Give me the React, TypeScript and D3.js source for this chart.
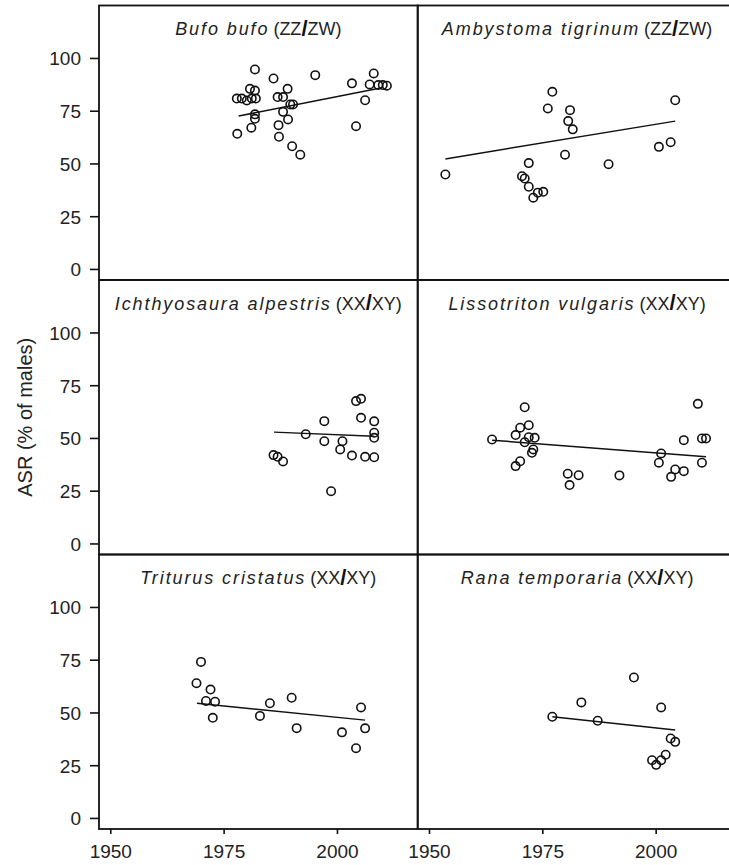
import React from "react";
import * as d3 from "d3";

// ---------- data (years, ASR % males) ----------
const bufoYears = [1981.8, 1985.9, 1995.1, 2003.2, 2008.0, 2007.1, 2009.0, 2010.0, 2010.9, 2006.1, 2004.1, 1977.8, 1978.9, 1980.0, 1981.1, 1982.0, 1980.7, 1981.8, 1986.8, 1988.0, 1989.0, 1989.6, 1990.2, 1988.0, 1989.1, 1987.0, 1981.8, 1981.8, 1981.0, 1977.9, 1987.1, 1990.0, 1991.8];
const bufoASR = [94.8, 90.5, 92.1, 88.2, 92.9, 87.7, 87.4, 87.4, 87.1, 80.2, 67.9, 81, 81, 80.1, 81, 81, 85.6, 84.8, 81.7, 81.7, 85.6, 78.2, 78.2, 74.7, 71.1, 68.4, 73.5, 71.4, 67.2, 64.3, 62.9, 58.4, 54.4];
const bufoFit = [1978.2, 72.7, 2009.8, 86.1];

const ambyYears = [1953.5, 1977.1, 1976.1, 1981.0, 1980.6, 1981.6, 2004.2, 2003.2, 2000.6, 1979.9, 1989.5, 1971.9, 1970.4, 1971.0, 1971.9, 1972.9, 1973.9, 1975.1];
const ambyASR = [45.0, 84.2, 76.3, 75.5, 70.3, 66.4, 80.2, 60.3, 58.1, 54.4, 49.9, 50.4, 44.2, 43.1, 39.2, 34.0, 36.4, 36.8];
const ambyFit = [1953.5, 52.4, 2004.2, 70.3];

const ichYears = [1985.9, 1986.8, 1988.0, 1993.0, 1997.1, 1997.1, 1998.6, 2001.1, 2000.6, 2003.2, 2004.1, 2005.2, 2005.2, 2006.1, 2008.1, 2008.1, 2008.1, 2008.1];
const ichASR = [42.1, 41.3, 39.1, 52.0, 58.2, 48.7, 25.0, 48.7, 44.8, 41.9, 67.7, 68.8, 59.8, 41.3, 58.1, 52.7, 50.3, 41.1];
const ichFit = [1986.0, 53.0, 2008.1, 51.1];

const lisYears = [1963.8, 1971.0, 1970.0, 1971.9, 1969.0, 1971.0, 1971.9, 1973.2, 1972.9, 1972.6, 1970.0, 1969.0, 1980.5, 1982.9, 1980.9, 1991.9, 2001.1, 2000.6, 2004.2, 2006.1, 2003.3, 2006.1, 2009.2, 2010.1, 2011.0, 2010.1];
const lisASR = [49.5, 64.8, 55.1, 56.3, 51.6, 48.2, 50.6, 50.3, 44.8, 43.2, 39.2, 36.9, 33.3, 32.6, 27.9, 32.5, 42.9, 38.5, 35.3, 34.5, 31.8, 49.2, 66.4, 50.0, 50.0, 38.5];
const lisFit = [1963.8, 49.2, 2011.0, 41.3];

const triYears = [1969.9, 1968.9, 1972.0, 1971.0, 1973.0, 1972.5, 1982.9, 1985.1, 1989.9, 1991.0, 2001.0, 2004.1, 2005.2, 2006.1];
const triASR = [74.2, 64.1, 61.1, 55.7, 55.3, 47.7, 48.6, 54.6, 57.2, 42.8, 40.8, 33.3, 52.6, 42.7];
const triFit = [1969.0, 54.6, 2006.1, 46.6];

const ranYears = [1977.1, 1983.5, 1987.1, 1995.1, 2001.1, 2003.2, 2004.2, 2002.1, 2001.1, 1999.1, 2000.0];
const ranASR = [48.2, 55.0, 46.3, 66.8, 52.6, 37.9, 36.3, 30.2, 27.6, 27.6, 25.4];
const ranFit = [1977.1, 48.2, 2004.2, 41.9];

const speciesNames = ["Bufo bufo", "Ambystoma tigrinum", "Ichthyosaura alpestris", "Lissotriton vulgaris", "Triturus cristatus", "Rana temporaria"];
const sexSystems = [["ZZ", "ZW"], ["ZZ", "ZW"], ["XX", "XY"], ["XX", "XY"], ["XX", "XY"], ["XX", "XY"]];
const panelYears = [bufoYears, ambyYears, ichYears, lisYears, triYears, ranYears];
const panelASR = [bufoASR, ambyASR, ichASR, lisASR, triASR, ranASR];
const panelFits = [bufoFit, ambyFit, ichFit, lisFit, triFit, ranFit];

const yTicks = [0, 25, 50, 75, 100];
const xTicks = [1950, 1975, 2000];
const yLabel = "ASR (% of males)";

// ---------- layout ----------
const WIDTH = 729;
const HEIGHT = 865;
const X0 = 99;
const Y0 = 5.5;
const PW = 318.7;
const PH = 274.5;
const INK = "#111";
const FONT = "'Liberation Sans', Arial, sans-serif";

export default function App() {
  const x = d3.scaleLinear().domain([1947.4, 2017.7]).range([0, PW]);
  const y = d3.scaleLinear().domain([-5, 125.1]).range([PH, 0]);
  const line = d3.line<[number, number]>().x((d) => x(d[0])).y((d) => y(d[1]));

  return (
    <svg width={WIDTH} height={HEIGHT} style={{ position: "absolute", left: 0, top: 0, background: "#fff" }} fontFamily={FONT}>
      {speciesNames.map((name, i) => {
        const col = i % 2;
        const row = Math.floor(i / 2);
        const px = X0 + col * PW;
        const py = Y0 + row * PH;
        const fit = panelFits[i];
        const [a, b] = sexSystems[i];
        return (
          <g key={name} transform={`translate(${px},${py})`}>
            <rect x={0} y={0} width={PW} height={PH} fill="none" stroke={INK} strokeWidth={1.8} />
            <text x={PW / 2} y={29.5} textAnchor="middle" fontSize={18} fill="#222">
              <tspan fontStyle="italic" letterSpacing={1.9}>{name}</tspan>
              <tspan dx={4}>({a}</tspan>
              <tspan fontSize={22} dy={0.5} fontWeight="bold" fill="#111">/</tspan>
              <tspan dy={-0.5}>{b})</tspan>
            </text>
            <path d={line([[fit[0], fit[1]], [fit[2], fit[3]]]) || ""} stroke={INK} strokeWidth={1.5} fill="none" />
            {panelYears[i].map((yr, j) => (
              <circle key={j} cx={x(yr)} cy={y(panelASR[i][j])} r={4.2} fill="none" stroke={INK} strokeWidth={1.6} />
            ))}
            {col === 0 &&
              yTicks.map((t) => (
                <g key={t} transform={`translate(0,${y(t)})`}>
                  <line x1={-9} x2={0} stroke={INK} strokeWidth={1.6} />
                  <text x={-18} dy="0.36em" textAnchor="end" fontSize={19} fill="#222">{t}</text>
                </g>
              ))}
            {row === 2 &&
              xTicks.map((t) => (
                <g key={t} transform={`translate(${x(t)},${PH})`}>
                  <line y1={0} y2={5} stroke={INK} strokeWidth={1.6} />
                  <text y={29} textAnchor="middle" fontSize={19} fill="#222">{t}</text>
                </g>
              ))}
          </g>
        );
      })}
      <text transform={`translate(31.5,${Y0 + 1.5 * PH}) rotate(-90)`} textAnchor="middle" fontSize={20} fill="#222">{yLabel}</text>
    </svg>
  );
}
